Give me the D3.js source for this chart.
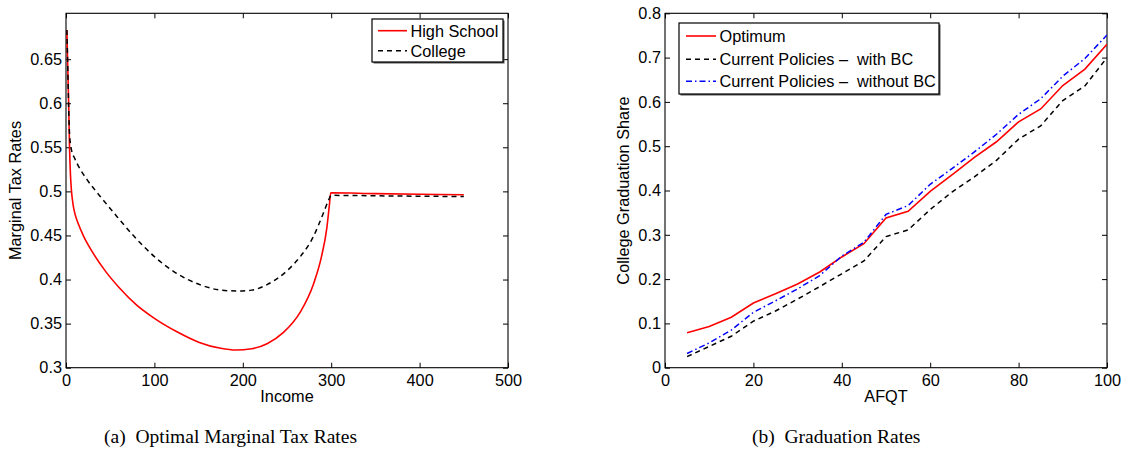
<!DOCTYPE html>
<html><head><meta charset="utf-8">
<script src="https://cdn.jsdelivr.net/npm/d3@7"></script>
<style>
html,body{margin:0;padding:0;background:#fff;}
svg text{white-space:pre;}
.sans{font-family:"Liberation Sans",Arial,Helvetica,sans-serif;}
.serif{font-family:"Liberation Serif","Times New Roman",serif;}
</style></head>
<body>
<svg id="chart" width="1130" height="459"></svg>
<script>
// ---------- Data: panel (a) ----------
const incomeHS = [1,2,3,4,5,6,8,10,14,20,30,45,60,80,100,125,150,175,192,210,228,246,265,280,289,295,298,299.5,350,400,450];
const taxHS    = [0.683,0.64,0.60,0.55,0.52,0.503,0.485,0.475,0.463,0.449,0.431,0.409,0.391,0.371,0.356,0.341,0.329,0.322,0.320,0.3215,0.3275,0.340,0.363,0.395,0.426,0.458,0.485,0.4985,0.4975,0.4968,0.4962];
const incomeCol = [1,2,3,4,6,10,15,24,39,58,77,100,122,152,175,195,210,227,250,265,280,291,297,300,350,400,450];
const taxCol    = [0.683,0.64,0.595,0.565,0.548,0.537,0.527,0.513,0.494,0.471,0.449,0.426,0.409,0.394,0.388,0.387,0.388,0.394,0.410,0.426,0.449,0.475,0.490,0.4955,0.495,0.4945,0.4942];
const seriesA = ["High School","College"];
const xTicksA = [0,100,200,300,400,500];
const yTicksA = [0.3,0.35,0.4,0.45,0.5,0.55,0.6,0.65];
const yTickLabelsA = ["0.3","0.35","0.4","0.45","0.5","0.55","0.6","0.65"];

// ---------- Data: panel (b) ----------
const afqt      = [5,10,15,20,25,30,35,40,45,50,55,60,65,70,75,80,85,90,95,100];
const optimum   = [0.079,0.093,0.114,0.146,0.167,0.189,0.216,0.250,0.280,0.338,0.353,0.398,0.436,0.475,0.510,0.555,0.584,0.637,0.674,0.730];
const withBC    = [0.025,0.048,0.071,0.105,0.128,0.155,0.183,0.212,0.241,0.296,0.311,0.357,0.397,0.431,0.468,0.516,0.546,0.603,0.636,0.700];
const withoutBC = [0.032,0.056,0.085,0.125,0.151,0.178,0.208,0.252,0.283,0.346,0.366,0.414,0.450,0.487,0.527,0.572,0.607,0.658,0.698,0.751];
const seriesB = ["Optimum","Current Policies \u2013  with BC","Current Policies \u2013  without BC"];
const xTicksB = [0,20,40,60,80,100];
const yTicksB = [0,0.1,0.2,0.3,0.4,0.5,0.6,0.7,0.8];
const yTickLabelsB = ["0","0.1","0.2","0.3","0.4","0.5","0.6","0.7","0.8"];

const captions = ["(a)\u2002Optimal Marginal Tax Rates","(b)\u2002Graduation Rates"];

const svg = d3.select("#chart");
const FS = 16.3, TICK = 5;

function panel(cfg){
  const g = svg.append("g").attr("class","sans");
  const x = d3.scaleLinear().domain(cfg.xDomain).range([cfg.x0,cfg.x1]);
  const y = d3.scaleLinear().domain(cfg.yDomain).range([cfg.y1,cfg.y0]);
  g.append("rect").attr("x",cfg.x0).attr("y",cfg.y0).attr("width",cfg.x1-cfg.x0).attr("height",cfg.y1-cfg.y0)
    .attr("fill","#fff").attr("stroke","#000").attr("stroke-width",1.1);
  const bottom = d3.axisBottom(x).tickValues(cfg.xTicks).tickSize(-TICK).tickPadding(7).tickFormat(d3.format("d"));
  const top = d3.axisTop(x).tickValues(cfg.xTicks).tickSize(-TICK).tickFormat("");
  const left = d3.axisLeft(y).tickValues(cfg.yTicks).tickSize(-TICK).tickPadding(4).tickFormat((d,i)=>cfg.yLabels[i]);
  const right = d3.axisRight(y).tickValues(cfg.yTicks).tickSize(-TICK).tickFormat("");
  const axes = [
    g.append("g").attr("transform",`translate(0,${cfg.y1})`).call(bottom),
    g.append("g").attr("transform",`translate(0,${cfg.y0})`).call(top),
    g.append("g").attr("transform",`translate(${cfg.x0},0)`).call(left),
    g.append("g").attr("transform",`translate(${cfg.x1},0)`).call(right)
  ];
  axes.forEach(a=>{
    a.attr("font-family",null).attr("font-size",FS);
    a.select(".domain").remove();
    a.selectAll("line").attr("stroke","#000").attr("stroke-width",1);
    a.selectAll("text").attr("font-size",FS).attr("fill","#000");
  });
  g.append("text").attr("x",(cfg.x0+cfg.x1)/2).attr("y",401.5).attr("text-anchor","middle").attr("font-size",FS).text(cfg.xLabel);
  g.append("text").attr("transform",`translate(${cfg.yLabelX},${(cfg.y0+cfg.y1)/2}) rotate(-90)`).attr("text-anchor","middle").attr("font-size",FS).text(cfg.yLabel);
  const clip = "clip"+cfg.id;
  svg.append("clipPath").attr("id",clip).append("rect").attr("x",cfg.x0).attr("y",cfg.y0).attr("width",cfg.x1-cfg.x0).attr("height",cfg.y1-cfg.y0);
  cfg.series.forEach(s=>{
    const line = d3.line().x(d=>x(d[0])).y(d=>y(d[1])).curve(s.curve||d3.curveLinear);
    g.append("path").datum(s.xs.map((v,i)=>[v,s.ys[i]])).attr("d",line)
      .attr("fill","none").attr("stroke",s.color).attr("stroke-width",s.width)
      .attr("stroke-dasharray",s.dash||null).attr("clip-path",`url(#${clip})`);
  });
  const L = cfg.legend;
  g.append("rect").attr("x",L.x+1.5).attr("y",L.y+1.5).attr("width",L.w).attr("height",L.h).attr("fill","#555");
  g.append("rect").attr("x",L.x).attr("y",L.y).attr("width",L.w).attr("height",L.h).attr("fill","#fff").attr("stroke","#000").attr("stroke-width",1.2);
  cfg.series.forEach((s,i)=>{
    const cy = L.rows[i];
    g.append("line").attr("x1",L.lx0).attr("x2",L.lx1).attr("y1",cy).attr("y2",cy)
      .attr("stroke",s.color).attr("stroke-width",s.width).attr("stroke-dasharray",s.dash||null);
    g.append("text").attr("x",L.tx).attr("y",cy+5.8).attr("font-size",FS).text(s.name);
  });
  svg.append("text").attr("class","serif").attr("x",cfg.capX).attr("y",443)
    .attr("font-size",19.5).attr("fill","#000").text(cfg.caption);
}

panel({
  id:"a", x0:66, x1:508, y0:13.3, y1:367.7,
  xDomain:[0,500], yDomain:[0.3,0.702],
  xTicks:xTicksA, yTicks:yTicksA, yLabels:yTickLabelsA,
  xLabel:"Income", yLabel:"Marginal Tax Rates", yLabelX:21,
  series:[
    {name:seriesA[0], xs:incomeHS, ys:taxHS, color:"#ff0000", width:1.6, curve:d3.curveMonotoneX},
    {name:seriesA[1], xs:incomeCol, ys:taxCol, color:"#000000", width:1.5, dash:"5,4", curve:d3.curveMonotoneX}
  ],
  legend:{x:372, y:19, w:131, h:43, rows:[30.7,50.7], lx0:378, lx1:407, tx:410.5},
  caption:captions[0], capX:104
});

panel({
  id:"b", x0:665, x1:1107, y0:13.3, y1:367.7,
  xDomain:[0,100], yDomain:[0,0.8],
  xTicks:xTicksB, yTicks:yTicksB, yLabels:yTickLabelsB,
  xLabel:"AFQT", yLabel:"College Graduation Share", yLabelX:629,
  series:[
    {name:seriesB[0], xs:afqt, ys:optimum, color:"#ff0000", width:1.6},
    {name:seriesB[1], xs:afqt, ys:withBC, color:"#000000", width:1.5, dash:"5,4"},
    {name:seriesB[2], xs:afqt, ys:withoutBC, color:"#0000ff", width:1.5, dash:"6,3,1.5,3"}
  ],
  legend:{x:679, y:23, w:260, h:71, rows:[36,59.3,81.3], lx0:686, lx1:716, tx:719.5},
  caption:captions[1], capX:752
});
</script>
</body></html>
